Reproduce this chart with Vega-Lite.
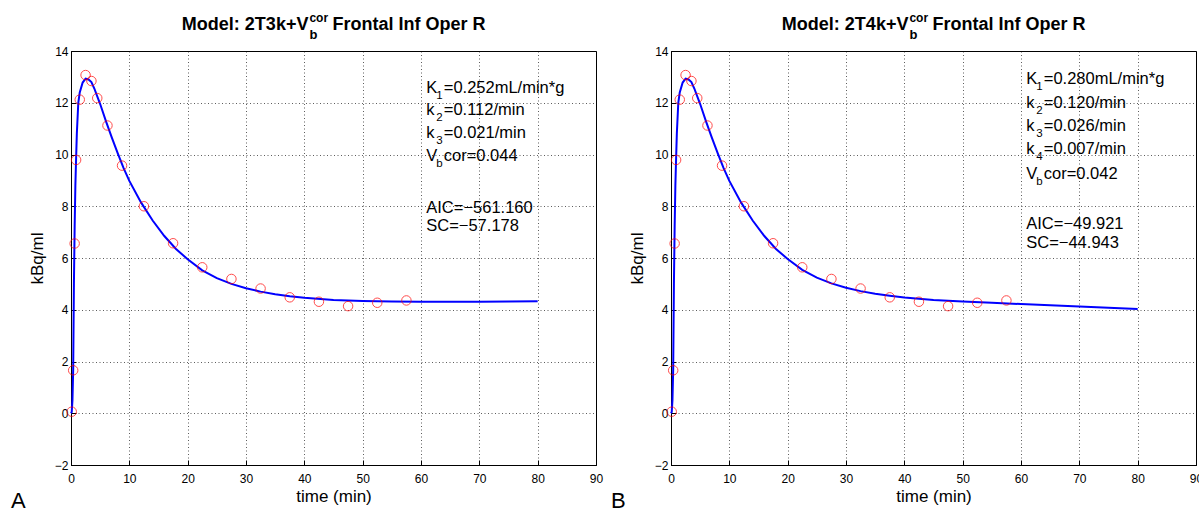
{
  "$schema": "https://vega.github.io/schema/vega-lite/v6.json",
  "background": "white",
  "padding": {"left": 10, "top": 11, "right": 0, "bottom": 0},
  "spacing": 75,
  "bounds": "flush",
  "config": {
    "font": "Liberation Sans",
    "view": {"stroke": "#000", "strokeWidth": 1},
    "axis": {
      "domainColor": "#000", "domainWidth": 1,
      "tickColor": "#000", "tickSize": -5, "tickWidth": 1,
      "labelColor": "#000", "labelFontSize": 12, "labelFont": "Liberation Sans",
      "titleFont": "Liberation Sans", "titleFontWeight": "normal", "titleFontSize": 17, "titleColor": "#000",
      "gridColor": "#000", "gridDash": [1, 2.5], "gridOpacity": 0.8, "gridWidth": 0.8,
      "labelFlush": false, "labelOverlap": false
    },
    "text": {"font": "Liberation Sans", "color": "#000", "baseline": "alphabetic"}
  },
  "datasets": {
    "obs": [
      {"t": 0.125, "v": 0.06}, {"t": 0.375, "v": 1.66}, {"t": 0.625, "v": 6.56}, {"t": 0.875, "v": 9.79},
      {"t": 1.5, "v": 12.12}, {"t": 2.5, "v": 13.07}, {"t": 3.5, "v": 12.84}, {"t": 4.5, "v": 12.18},
      {"t": 6.25, "v": 11.12}, {"t": 8.75, "v": 9.57}, {"t": 12.5, "v": 8.0}, {"t": 17.5, "v": 6.57},
      {"t": 22.5, "v": 5.64}, {"t": 27.5, "v": 5.19}, {"t": 32.5, "v": 4.82}, {"t": 37.5, "v": 4.48},
      {"t": 42.5, "v": 4.31}, {"t": 47.5, "v": 4.14}, {"t": 52.5, "v": 4.27}, {"t": 57.5, "v": 4.36}
    ],
    "fitA": [
      {"t": 0, "v": 0}, {"t": 0.125, "v": 0.05}, {"t": 0.25, "v": 0.5}, {"t": 0.375, "v": 1.7},
      {"t": 0.5, "v": 5.0}, {"t": 0.625, "v": 7.2}, {"t": 0.75, "v": 8.8}, {"t": 0.875, "v": 9.85},
      {"t": 1.0, "v": 10.8}, {"t": 1.25, "v": 12.0}, {"t": 1.5, "v": 12.4}, {"t": 2.0, "v": 12.78},
      {"t": 2.5, "v": 12.93}, {"t": 3.0, "v": 12.9}, {"t": 3.5, "v": 12.8}, {"t": 4.0, "v": 12.55},
      {"t": 4.5, "v": 12.25}, {"t": 5.0, "v": 11.95}, {"t": 6.0, "v": 11.28}, {"t": 7.0, "v": 10.65},
      {"t": 8.0, "v": 10.05}, {"t": 9.0, "v": 9.48}, {"t": 10.0, "v": 8.98}, {"t": 12.0, "v": 8.15},
      {"t": 14.0, "v": 7.45}, {"t": 16.0, "v": 6.85}, {"t": 18.0, "v": 6.35}, {"t": 20.0, "v": 5.95},
      {"t": 22.5, "v": 5.52}, {"t": 25.0, "v": 5.22}, {"t": 27.5, "v": 5.0}, {"t": 30.0, "v": 4.83},
      {"t": 32.5, "v": 4.7}, {"t": 35.0, "v": 4.6}, {"t": 37.5, "v": 4.52}, {"t": 40.0, "v": 4.46},
      {"t": 45.0, "v": 4.38}, {"t": 50.0, "v": 4.34}, {"t": 55.0, "v": 4.32}, {"t": 60.0, "v": 4.31},
      {"t": 65.0, "v": 4.31}, {"t": 70.0, "v": 4.31}, {"t": 75.0, "v": 4.32}, {"t": 80.0, "v": 4.33}
    ],
    "fitB": [
      {"t": 0, "v": 0}, {"t": 0.125, "v": 0.05}, {"t": 0.25, "v": 0.5}, {"t": 0.375, "v": 1.7},
      {"t": 0.5, "v": 5.0}, {"t": 0.625, "v": 7.2}, {"t": 0.75, "v": 8.8}, {"t": 0.875, "v": 9.85},
      {"t": 1.0, "v": 10.8}, {"t": 1.25, "v": 12.0}, {"t": 1.5, "v": 12.4}, {"t": 2.0, "v": 12.78},
      {"t": 2.5, "v": 12.93}, {"t": 3.0, "v": 12.9}, {"t": 3.5, "v": 12.8}, {"t": 4.0, "v": 12.55},
      {"t": 4.5, "v": 12.25}, {"t": 5.0, "v": 11.95}, {"t": 6.0, "v": 11.28}, {"t": 7.0, "v": 10.65},
      {"t": 8.0, "v": 10.05}, {"t": 9.0, "v": 9.48}, {"t": 10.0, "v": 8.98}, {"t": 12.0, "v": 8.15},
      {"t": 14.0, "v": 7.45}, {"t": 16.0, "v": 6.85}, {"t": 18.0, "v": 6.35}, {"t": 20.0, "v": 5.96},
      {"t": 22.5, "v": 5.54}, {"t": 25.0, "v": 5.24}, {"t": 27.5, "v": 5.02}, {"t": 30.0, "v": 4.85},
      {"t": 32.5, "v": 4.72}, {"t": 35.0, "v": 4.62}, {"t": 37.5, "v": 4.54}, {"t": 40.0, "v": 4.47},
      {"t": 45.0, "v": 4.38}, {"t": 50.0, "v": 4.32}, {"t": 55.0, "v": 4.27}, {"t": 60.0, "v": 4.22},
      {"t": 65.0, "v": 4.17}, {"t": 70.0, "v": 4.13}, {"t": 75.0, "v": 4.08}, {"t": 80.0, "v": 4.03}
    ],
    "annA": [
      {"t": 60.9, "v": 12.37, "head": "K", "sub": "1", "rest": "=0.252mL/min*g"},
      {"t": 60.9, "v": 11.52, "head": "k", "sub": "2", "rest": "=0.112/min"},
      {"t": 60.9, "v": 10.63, "head": "k", "sub": "3", "rest": "=0.021/min"},
      {"t": 60.9, "v": 9.74, "head": "V", "sub": "b", "rest": "cor=0.044"},
      {"t": 60.9, "v": 7.75, "head": "AIC=−561.160", "sub": "", "rest": ""},
      {"t": 60.9, "v": 7.04, "head": "SC=−57.178", "sub": "", "rest": ""}
    ],
    "annB": [
      {"t": 60.9, "v": 12.71, "head": "K", "sub": "1", "rest": "=0.280mL/min*g"},
      {"t": 60.9, "v": 11.81, "head": "k", "sub": "2", "rest": "=0.120/min"},
      {"t": 60.9, "v": 10.91, "head": "k", "sub": "3", "rest": "=0.026/min"},
      {"t": 60.9, "v": 10.01, "head": "k", "sub": "4", "rest": "=0.007/min"},
      {"t": 60.9, "v": 9.04, "head": "V", "sub": "b", "rest": "cor=0.042"},
      {"t": 60.9, "v": 7.11, "head": "AIC=−49.921", "sub": "", "rest": ""},
      {"t": 60.9, "v": 6.40, "head": "SC=−44.943", "sub": "", "rest": ""}
    ],
    "titleA": [{"main": "Model: 2T3k+V", "sup": "cor", "sub": "b", "tail": "Frontal Inf Oper R", "panel": "A"}],
    "titleB": [{"main": "Model: 2T4k+V", "sup": "cor", "sub": "b", "tail": "Frontal Inf Oper R", "panel": "B"}]
  },
  "hconcat": [
    {
      "width": 525, "height": 414,
      "layer": [
        {
          "data": {"name": "fitA"},
          "mark": {"type": "line", "color": "#0000ff", "strokeWidth": 2},
          "encoding": {
            "x": {"field": "t", "type": "quantitative", "scale": {"domain": [0, 90], "nice": false, "zero": false},
                  "axis": {"values": [0, 10, 20, 30, 40, 50, 60, 70, 80, 90], "labelPadding": 13, "titlePadding": 4, "title": "time (min)"}},
            "y": {"field": "v", "type": "quantitative", "scale": {"domain": [-2, 14], "nice": false, "zero": false},
                  "axis": {"values": [-2, 0, 2, 4, 6, 8, 10, 12, 14], "labelPadding": 8, "titlePadding": 8, "title": "kBq/ml"}}
          }
        },
        {
          "data": {"name": "obs"},
          "mark": {"type": "point", "shape": "circle", "filled": false, "color": "#ff0000", "size": 90, "strokeWidth": 1},
          "encoding": {"x": {"field": "t", "type": "quantitative"}, "y": {"field": "v", "type": "quantitative"}}
        },
        {
          "data": {"name": "annA"},
          "mark": {"type": "text", "align": "left", "fontSize": 16.5},
          "encoding": {"x": {"field": "t", "type": "quantitative"}, "y": {"field": "v", "type": "quantitative"}, "text": {"field": "head"}}
        },
        {
          "data": {"name": "annA"},
          "mark": {"type": "text", "align": "left", "fontSize": 11.5, "dx": 10, "dy": 6},
          "encoding": {"x": {"field": "t", "type": "quantitative"}, "y": {"field": "v", "type": "quantitative"}, "text": {"field": "sub"}}
        },
        {
          "data": {"name": "annA"},
          "mark": {"type": "text", "align": "left", "fontSize": 16.5, "dx": 17.5},
          "encoding": {"x": {"field": "t", "type": "quantitative"}, "y": {"field": "v", "type": "quantitative"}, "text": {"field": "rest"}}
        },
        {
          "data": {"name": "titleA"},
          "mark": {"type": "text", "align": "right", "fontSize": 18, "fontWeight": "bold"},
          "encoding": {"x": {"datum": 40.7}, "y": {"datum": 14.8}, "text": {"field": "main"}}
        },
        {
          "data": {"name": "titleA"},
          "mark": {"type": "text", "align": "left", "fontSize": 12, "fontWeight": "bold", "dx": 1, "dy": -8},
          "encoding": {"x": {"datum": 40.7}, "y": {"datum": 14.8}, "text": {"field": "sup"}}
        },
        {
          "data": {"name": "titleA"},
          "mark": {"type": "text", "align": "left", "fontSize": 13, "fontWeight": "bold", "dx": 1, "dy": 9},
          "encoding": {"x": {"datum": 40.7}, "y": {"datum": 14.8}, "text": {"field": "sub"}}
        },
        {
          "data": {"name": "titleA"},
          "mark": {"type": "text", "align": "left", "fontSize": 18, "fontWeight": "bold", "dx": 24},
          "encoding": {"x": {"datum": 40.7}, "y": {"datum": 14.8}, "text": {"field": "tail"}}
        },
        {
          "data": {"name": "titleA"},
          "mark": {"type": "text", "align": "left", "fontSize": 22},
          "encoding": {"x": {"datum": -10.3}, "y": {"datum": -3.66}, "text": {"field": "panel"}}
        }
      ]
    },
    {
      "width": 525, "height": 414,
      "layer": [
        {
          "data": {"name": "fitB"},
          "mark": {"type": "line", "color": "#0000ff", "strokeWidth": 2},
          "encoding": {
            "x": {"field": "t", "type": "quantitative", "scale": {"domain": [0, 90], "nice": false, "zero": false},
                  "axis": {"values": [0, 10, 20, 30, 40, 50, 60, 70, 80, 90], "labelPadding": 13, "titlePadding": 4, "title": "time (min)"}},
            "y": {"field": "v", "type": "quantitative", "scale": {"domain": [-2, 14], "nice": false, "zero": false},
                  "axis": {"values": [-2, 0, 2, 4, 6, 8, 10, 12, 14], "labelPadding": 8, "titlePadding": 8, "title": "kBq/ml"}}
          }
        },
        {
          "data": {"name": "obs"},
          "mark": {"type": "point", "shape": "circle", "filled": false, "color": "#ff0000", "size": 90, "strokeWidth": 1},
          "encoding": {"x": {"field": "t", "type": "quantitative"}, "y": {"field": "v", "type": "quantitative"}}
        },
        {
          "data": {"name": "annB"},
          "mark": {"type": "text", "align": "left", "fontSize": 16.5},
          "encoding": {"x": {"field": "t", "type": "quantitative"}, "y": {"field": "v", "type": "quantitative"}, "text": {"field": "head"}}
        },
        {
          "data": {"name": "annB"},
          "mark": {"type": "text", "align": "left", "fontSize": 11.5, "dx": 10, "dy": 6},
          "encoding": {"x": {"field": "t", "type": "quantitative"}, "y": {"field": "v", "type": "quantitative"}, "text": {"field": "sub"}}
        },
        {
          "data": {"name": "annB"},
          "mark": {"type": "text", "align": "left", "fontSize": 16.5, "dx": 17.5},
          "encoding": {"x": {"field": "t", "type": "quantitative"}, "y": {"field": "v", "type": "quantitative"}, "text": {"field": "rest"}}
        },
        {
          "data": {"name": "titleB"},
          "mark": {"type": "text", "align": "right", "fontSize": 18, "fontWeight": "bold"},
          "encoding": {"x": {"datum": 40.7}, "y": {"datum": 14.8}, "text": {"field": "main"}}
        },
        {
          "data": {"name": "titleB"},
          "mark": {"type": "text", "align": "left", "fontSize": 12, "fontWeight": "bold", "dx": 1, "dy": -8},
          "encoding": {"x": {"datum": 40.7}, "y": {"datum": 14.8}, "text": {"field": "sup"}}
        },
        {
          "data": {"name": "titleB"},
          "mark": {"type": "text", "align": "left", "fontSize": 13, "fontWeight": "bold", "dx": 1, "dy": 9},
          "encoding": {"x": {"datum": 40.7}, "y": {"datum": 14.8}, "text": {"field": "sub"}}
        },
        {
          "data": {"name": "titleB"},
          "mark": {"type": "text", "align": "left", "fontSize": 18, "fontWeight": "bold", "dx": 24},
          "encoding": {"x": {"datum": 40.7}, "y": {"datum": 14.8}, "text": {"field": "tail"}}
        },
        {
          "data": {"name": "titleB"},
          "mark": {"type": "text", "align": "left", "fontSize": 22},
          "encoding": {"x": {"datum": -10.3}, "y": {"datum": -3.66}, "text": {"field": "panel"}}
        }
      ]
    }
  ]
}
